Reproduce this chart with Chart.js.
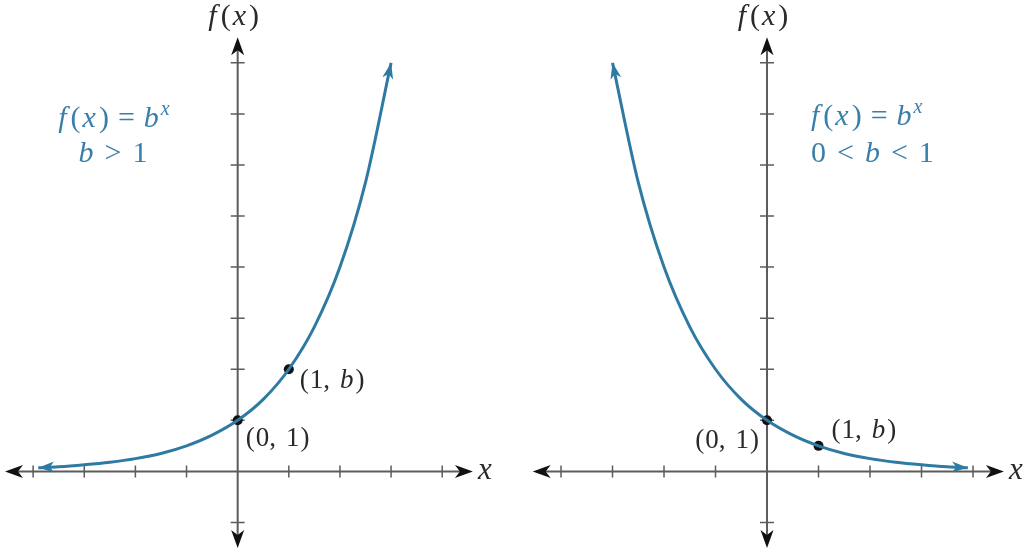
<!DOCTYPE html>
<html>
<head>
<meta charset="utf-8">
<script src="https://cdn.jsdelivr.net/npm/chart.js@4.4.0/dist/chart.umd.min.js"></script>
<style>
  html, body { margin: 0; padding: 0; background: #fff; }
  #wrap { position: relative; width: 1024px; height: 553px; overflow: hidden; }
  .panel { position: absolute; top: 0; width: 512px; height: 553px; }
</style>
</head>
<body>
<div id="wrap">
  <div class="panel" style="left:0"><canvas id="growthChart" width="512" height="553"></canvas></div>
  <div class="panel" style="left:512px"><canvas id="decayChart" width="512" height="553"></canvas></div>
</div>
<script>
// tick marks on both axes
const xTicks = [-4, -3, -2, -1, 1, 2, 3, 4];
const yTicks = [-1, 1, 2, 3, 4, 5, 6, 7, 8];

// f(x) = b^x, b > 1 (b = 2)
const growthX = [-3.9, -3.5, -3, -2.5, -2, -1.5, -1, -0.5, 0, 0.5, 1, 1.5, 2, 2.5, 3];
const growthY = [0.07, 0.09, 0.13, 0.18, 0.25, 0.35, 0.5, 0.71, 1, 1.41, 2, 2.83, 4, 5.66, 8];
const growthDotX = [0, 1];
const growthDotY = [1, 2];

// f(x) = b^x, 0 < b < 1 (b = 1/2)
const decayX = [-3, -2.5, -2, -1.5, -1, -0.5, 0, 0.5, 1, 1.5, 2, 2.5, 3, 3.5, 3.9];
const decayY = [8, 5.66, 4, 2.83, 2, 1.41, 1, 0.71, 0.5, 0.35, 0.25, 0.18, 0.13, 0.09, 0.07];
const decayDotX = [0, 1];
const decayDotY = [1, 0.5];

const CURVE = '#2f7aa3';
const TEXT_BLUE = '#3a7fa9';
const SERIF = "'Liberation Serif', 'Times New Roman', serif";

// draw a row of text pieces: [text, italic, superscript, extra space before]
function drawRuns(ctx, runs, x, y, size, color, align) {
  const fontOf = r => (r[1] ? 'italic ' : '') + Math.round(r[2] ? size * 0.65 : size) + 'px ' + SERIF;
  let total = 0;
  runs.forEach(r => { ctx.font = fontOf(r); total += (r[3] || 0) + ctx.measureText(r[0]).width; });
  let cx = align === 'center' ? x - total / 2 : align === 'right' ? x - total : x;
  ctx.fillStyle = color;
  ctx.textAlign = 'left';
  ctx.textBaseline = 'alphabetic';
  runs.forEach(r => {
    ctx.font = fontOf(r);
    cx += r[3] || 0;
    ctx.fillText(r[0], cx, r[2] ? y - size * 0.4 : y);
    cx += ctx.measureText(r[0]).width;
  });
}

function arrowHead(ctx, tx, ty, dx, dy, len, half) {
  const bx = tx - dx * len, by = ty - dy * len;
  ctx.beginPath();
  ctx.moveTo(tx, ty);
  ctx.lineTo(bx - dy * half, by + dx * half);
  ctx.lineTo(tx - dx * len * 0.72, ty - dy * len * 0.72);
  ctx.lineTo(bx + dy * half, by - dx * half);
  ctx.closePath();
  ctx.fill();
}

const fOfX = [['f', 1], ['(', 0, 0, 4], ['x', 1, 0, 2], [')', 0, 0, 3]];

const axesPlugin = {
  id: 'axes',
  beforeDatasetsDraw(chart) {
    const { ctx, chartArea: a, scales: { x, y } } = chart;
    const x0 = x.getPixelForValue(0), y0 = y.getPixelForValue(0);
    ctx.save();
    ctx.strokeStyle = '#5c5c5c';
    ctx.lineWidth = 2;
    ctx.beginPath();
    ctx.moveTo(a.left + 10, y0); ctx.lineTo(a.right - 10, y0);
    ctx.moveTo(x0, a.top + 10); ctx.lineTo(x0, a.bottom - 10);
    ctx.stroke();
    ctx.lineWidth = 1.5;
    ctx.beginPath();
    xTicks.forEach(v => { const p = x.getPixelForValue(v); ctx.moveTo(p, y0 - 6); ctx.lineTo(p, y0 + 6); });
    yTicks.forEach(v => { const p = y.getPixelForValue(v); ctx.moveTo(x0 - 7, p); ctx.lineTo(x0 + 7, p); });
    ctx.stroke();
    ctx.fillStyle = '#111';
    arrowHead(ctx, a.left, y0, -1, 0, 18, 6.5);
    arrowHead(ctx, a.right, y0, 1, 0, 18, 6.5);
    arrowHead(ctx, x0, a.top, 0, -1, 18, 6.5);
    arrowHead(ctx, x0, a.bottom, 0, 1, 18, 6.5);
    // axis names
    drawRuns(ctx, fOfX, x0 - 4, 25, 30, '#2a2a2a', 'center');
    drawRuns(ctx, [['x', 1]], a.right + 5, y0 + 8, 31, '#2a2a2a', 'left');
    ctx.restore();
  },
  afterDatasetsDraw(chart, args, opts) {
    const { ctx, scales: { x, y } } = chart;
    const pts = chart.getDatasetMeta(0).data;
    ctx.save();
    ctx.fillStyle = CURVE;
    [[pts[0], pts[1]], [pts[pts.length - 1], pts[pts.length - 2]]].forEach(([tip, prev]) => {
      const dx = tip.x - prev.x, dy = tip.y - prev.y;
      const l = Math.hypot(dx, dy);
      arrowHead(ctx, tip.x, tip.y, dx / l, dy / l, 16, 5.5);
    });
    // point labels, placed next to the marked points
    (opts.pointLabels || []).forEach(p => {
      drawRuns(ctx, p.runs, x.getPixelForValue(p.x) + p.dx, y.getPixelForValue(p.y) + p.dy, 27, '#2a2a2a', p.align);
    });
    // formula block
    (opts.titles || []).forEach(t => drawRuns(ctx, t.runs, t.px, t.py, 30, TEXT_BLUE, t.align));
    ctx.restore();
  }
};

function makeChart(id, cx, cy, dx, dy, padding, labelOpts) {
  return new Chart(document.getElementById(id), {
    type: 'scatter',
    data: {
      datasets: [{
        data: cx.map((v, i) => ({ x: v, y: cy[i] })),
        showLine: true,
        borderColor: CURVE,
        borderWidth: 3,
        pointRadius: 0,
        cubicInterpolationMode: 'monotone',
        clip: false
      }, {
        data: dx.map((v, i) => ({ x: v, y: dy[i] })),
        pointRadius: 5,
        pointBackgroundColor: '#111',
        pointBorderColor: '#111',
        pointBorderWidth: 0,
        clip: false
      }]
    },
    options: {
      responsive: false,
      animation: false,
      events: [],
      layout: { padding: padding },
      scales: {
        x: { type: 'linear', min: -4.55, max: 4.6, display: false },
        y: { type: 'linear', min: -1.5, max: 8.5, display: false }
      },
      plugins: {
        legend: { display: false },
        tooltip: { enabled: false },
        axes: labelOpts
      }
    },
    plugins: [axesPlugin]
  });
}

const oneB = [['(', 0], ['1,', 0, 0, 1], ['b', 1, 0, 10], [')', 0, 0, 2]];
const zeroOne = [['(', 0], ['0,', 0, 0, 1], ['1', 0, 0, 10], [')', 0, 0, 1]];

makeChart('growthChart', growthX, growthY, growthDotX, growthDotY,
  { left: 1.7, right: 39.1, top: 37.3, bottom: 3.7 },
  {
    pointLabels: [
      { x: 1, y: 2, dx: 11, dy: 19, align: 'left', runs: oneB },
      { x: 0, y: 1, dx: 8, dy: 26, align: 'left', runs: zeroOne }
    ],
    titles: [
      { px: 114, py: 127, align: 'center', runs: [['f', 1], ['(', 0, 0, 4], ['x', 1, 0, 2], [')', 0, 0, 3], ['=', 0, 0, 9], ['b', 1, 0, 9], ['x', 1, 1, 2]] },
      { px: 113, py: 162, align: 'center', runs: [['b', 1], ['>', 0, 0, 11], ['1', 0, 0, 11]] }
    ]
  });

makeChart('decayChart', decayX, decayY, decayDotX, decayDotY,
  { left: 20.7, right: 20.1, top: 37.3, bottom: 3.7 },
  {
    pointLabels: [
      { x: 1, y: 0.5, dx: 13, dy: -8, align: 'left', runs: oneB },
      { x: 0, y: 1, dx: -8, dy: 28, align: 'right', runs: zeroOne }
    ],
    titles: [
      { px: 811, py: 125, align: 'left', runs: [['f', 1], ['(', 0, 0, 4], ['x', 1, 0, 2], [')', 0, 0, 3], ['=', 0, 0, 9], ['b', 1, 0, 9], ['x', 1, 1, 2]] },
      { px: 811, py: 162, align: 'left', runs: [['0', 0], ['<', 0, 0, 11], ['b', 1, 0, 11], ['<', 0, 0, 11], ['1', 0, 0, 11]] }
    ].map(t => Object.assign(t, { px: t.px - 512 }))
  });
</script>
</body>
</html>
